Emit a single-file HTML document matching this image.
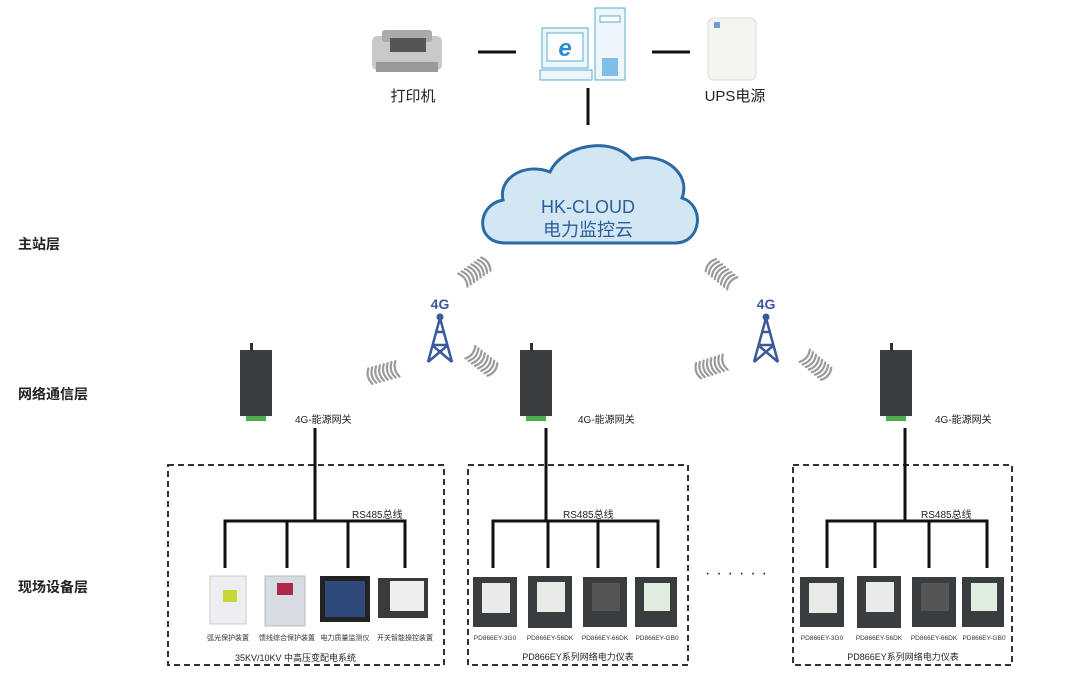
<!DOCTYPE html>
<html><head><meta charset="utf-8"><style>
body{margin:0;background:#fff;width:1080px;height:674px;overflow:hidden}
svg{display:block}
text{font-family:"Liberation Sans","Noto Sans CJK SC",sans-serif}
</style></head><body>
<svg width="1080" height="674" viewBox="0 0 1080 674">
<defs>
<g id="wr" fill="none" stroke="#9a9a9a" stroke-width="2.2" stroke-linecap="round">
<path d="M-16,-8 Q-11,0 -16,8 M-12,-8 Q-7,0 -12,8 M-8,-8 Q-3,0 -8,8 M-4,-8 Q1,0 -4,8 M0,-8 Q5,0 0,8 M4,-8 Q9,0 4,8 M8,-8 Q13,0 8,8 M12,-8 Q17,0 12,8"/>
</g>
<g id="wl" fill="none" stroke="#9a9a9a" stroke-width="2.2" stroke-linecap="round">
<path d="M-12,-8 Q-17,0 -12,8 M-8,-8 Q-13,0 -8,8 M-4,-8 Q-9,0 -4,8 M0,-8 Q-5,0 0,8 M4,-8 Q-1,0 4,8 M8,-8 Q3,0 8,8 M12,-8 Q7,0 12,8 M16,-8 Q11,0 16,8"/>
</g>
</defs>
<!-- printer -->
<rect x="372" y="36" width="70" height="34" rx="5" fill="#c9c9c9"/>
<rect x="382" y="30" width="50" height="12" rx="3" fill="#aaa"/>
<rect x="390" y="38" width="36" height="14" fill="#555"/>
<rect x="376" y="62" width="62" height="10" fill="#999"/>
<text x="413" y="101" font-size="15" text-anchor="middle" fill="#222">打印机</text>
<line x1="478" y1="52" x2="516" y2="52" stroke="#111" stroke-width="3"/>
<line x1="652" y1="52" x2="690" y2="52" stroke="#111" stroke-width="3"/>
<!-- computer -->
<rect x="542" y="28" width="46" height="40" fill="#eef6fb" stroke="#5aa9d6"/>
<rect x="547" y="33" width="36" height="28" fill="#fff" stroke="#5aa9d6"/>
<text x="565" y="56" font-size="24" font-weight="bold" font-style="italic" fill="#2a8ad0" text-anchor="middle">e</text>
<rect x="540" y="70" width="52" height="10" fill="#eef6fb" stroke="#5aa9d6"/>
<rect x="595" y="8" width="30" height="72" fill="#eef6fb" stroke="#5aa9d6"/>
<rect x="600" y="16" width="20" height="6" fill="#fff" stroke="#5aa9d6"/>
<rect x="602" y="58" width="16" height="18" fill="#7fbfe6"/>
<line x1="588" y1="88" x2="588" y2="125" stroke="#111" stroke-width="3"/>
<!-- UPS -->
<rect x="708" y="18" width="48" height="62" rx="6" fill="#f4f4f0" stroke="#ddd"/>
<rect x="714" y="22" width="6" height="6" fill="#6a9fd0"/>
<text x="735" y="101" font-size="15" text-anchor="middle" fill="#222">UPS电源</text>
<!-- cloud -->
<path d="M505 243 C475 243 476 205 503 200 C498 178 525 162 550 172 C562 145 612 135 632 160 C660 150 692 172 682 198 C705 205 702 243 675 243 Z" fill="#d3e6f3" stroke="#2c6aa6" stroke-width="3"/>
<text x="588" y="213" font-size="18" text-anchor="middle" fill="#2c5f9a">HK-CLOUD</text>
<text x="588" y="236" font-size="18" text-anchor="middle" fill="#2c5f9a">电力监控云</text>
<!-- layer labels -->
<text x="18" y="249" font-size="14" font-weight="bold" fill="#222">主站层</text>
<text x="18" y="399" font-size="14" font-weight="bold" fill="#222">网络通信层</text>
<text x="18" y="592" font-size="14" font-weight="bold" fill="#222">现场设备层</text>
<!-- towers -->
<g fill="none" stroke="#3b5a99" stroke-width="2.5">
<path d="M440 318 L428 362 M440 318 L452 362 M432 345 L448 345 M435 332 L445 332 M428 362 L448 345 M452 362 L432 345"/>
<path d="M766 318 L754 362 M766 318 L778 362 M758 345 L774 345 M761 332 L771 332 M754 362 L774 345 M778 362 L758 345"/>
</g>
<circle cx="440" cy="317" r="3.5" fill="#3b5a99"/><circle cx="766" cy="317" r="3.5" fill="#3b5a99"/>
<text x="440" y="309" font-size="14" font-weight="bold" text-anchor="middle" fill="#3b5a99">4G</text>
<text x="766" y="309" font-size="14" font-weight="bold" text-anchor="middle" fill="#3b5a99">4G</text>
<!-- waves -->
<use href="#wr" transform="translate(476,271) rotate(-35)"/>
<use href="#wl" transform="translate(382,373) rotate(-15)"/>
<use href="#wr" transform="translate(483,362) rotate(38)"/>
<use href="#wl" transform="translate(720,273) rotate(40)"/>
<use href="#wl" transform="translate(710,367) rotate(-18)"/>
<use href="#wr" transform="translate(817,366) rotate(40)"/>
<!-- gateways -->
<g>
<rect x="240" y="350" width="32" height="66" fill="#3a3d40"/><rect x="250" y="343" width="3" height="8" fill="#333"/><rect x="246" y="416" width="20" height="5" fill="#4caf50"/>
<rect x="520" y="350" width="32" height="66" fill="#3a3d40"/><rect x="530" y="343" width="3" height="8" fill="#333"/><rect x="526" y="416" width="20" height="5" fill="#4caf50"/>
<rect x="880" y="350" width="32" height="66" fill="#3a3d40"/><rect x="890" y="343" width="3" height="8" fill="#333"/><rect x="886" y="416" width="20" height="5" fill="#4caf50"/>
</g>
<text x="295" y="423" font-size="10" fill="#222">4G-能源网关</text>
<text x="578" y="423" font-size="10" fill="#222">4G-能源网关</text>
<text x="935" y="423" font-size="10" fill="#222">4G-能源网关</text>
<!-- dashed boxes -->
<g fill="none" stroke="#333" stroke-width="2" stroke-dasharray="6,4">
<rect x="168" y="465" width="276" height="200"/>
<rect x="468" y="465" width="220" height="200"/>
<rect x="793" y="465" width="219" height="200"/>
</g>
<!-- buses -->
<g stroke="#111" stroke-width="3" fill="none">
<path d="M315 428 V521 M225 568 V521 H405 V568 M287 521 V568 M348 521 V568"/>
<path d="M546 428 V521 M493 568 V521 H658 V568 M548 521 V568 M598 521 V568"/>
<path d="M905 428 V521 M827 568 V521 H987 V568 M875 521 V568 M929 521 V568"/>
</g>
<text x="352" y="518" font-size="10" fill="#222">RS485总线</text>
<text x="563" y="518" font-size="10" fill="#222">RS485总线</text>
<text x="921" y="518" font-size="10" fill="#222">RS485总线</text>
<!-- box1 devices -->
<rect x="210" y="576" width="36" height="48" fill="#eceef2" stroke="#ccc"/><rect x="223" y="590" width="14" height="12" fill="#c8d63a"/>
<rect x="265" y="576" width="40" height="50" fill="#d7dbe2" stroke="#bbb"/><rect x="277" y="583" width="16" height="12" fill="#b2264a"/>
<rect x="320" y="576" width="50" height="46" fill="#222"/><rect x="325" y="581" width="40" height="36" fill="#2f4a7a"/>
<rect x="378" y="578" width="50" height="40" fill="#3a3a3a"/><rect x="390" y="581" width="34" height="30" fill="#eee"/>
<g font-size="7" fill="#333" text-anchor="middle">
<text x="228" y="640">弧光保护装置</text><text x="287" y="640">馈线综合保护装置</text><text x="345" y="640">电力质量监测仪</text><text x="405" y="640">开关智能操控装置</text></g>
<text x="235" y="661" font-size="9" fill="#222">35KV/10KV   中高压变配电系统</text>
<!-- meters -->
<g fill="#3a3d40">
<rect x="473" y="577" width="44" height="50"/><rect x="528" y="576" width="44" height="52"/><rect x="583" y="577" width="44" height="50"/><rect x="635" y="577" width="42" height="50"/>
<rect x="800" y="577" width="44" height="50"/><rect x="857" y="576" width="44" height="52"/><rect x="912" y="577" width="44" height="50"/><rect x="962" y="577" width="42" height="50"/>
</g>
<g fill="#e8ebe8">
<rect x="482" y="583" width="28" height="30"/><rect x="537" y="582" width="28" height="30"/><rect x="592" y="583" width="28" height="28" fill="#555"/><rect x="644" y="583" width="26" height="28" fill="#dfeedf"/>
<rect x="809" y="583" width="28" height="30"/><rect x="866" y="582" width="28" height="30"/><rect x="921" y="583" width="28" height="28" fill="#555"/><rect x="971" y="583" width="26" height="28" fill="#dfeedf"/>
</g>
<g font-size="6.5" fill="#333" text-anchor="middle">
<text x="495" y="640">PD866EY-3G0</text><text x="550" y="640">PD866EY-56DK</text><text x="605" y="640">PD866EY-66DK</text><text x="657" y="640">PD866EY-GB0</text>
<text x="822" y="640">PD866EY-3G0</text><text x="879" y="640">PD866EY-56DK</text><text x="934" y="640">PD866EY-66DK</text><text x="984" y="640">PD866EY-GB0</text>
</g>
<text x="578" y="660" font-size="9" fill="#222" text-anchor="middle">PD866EY系列网络电力仪表</text>
<text x="903" y="660" font-size="9" fill="#222" text-anchor="middle">PD866EY系列网络电力仪表</text>
<text x="705" y="578" font-size="16" fill="#222" letter-spacing="6">······</text>
</svg>
</body></html>
